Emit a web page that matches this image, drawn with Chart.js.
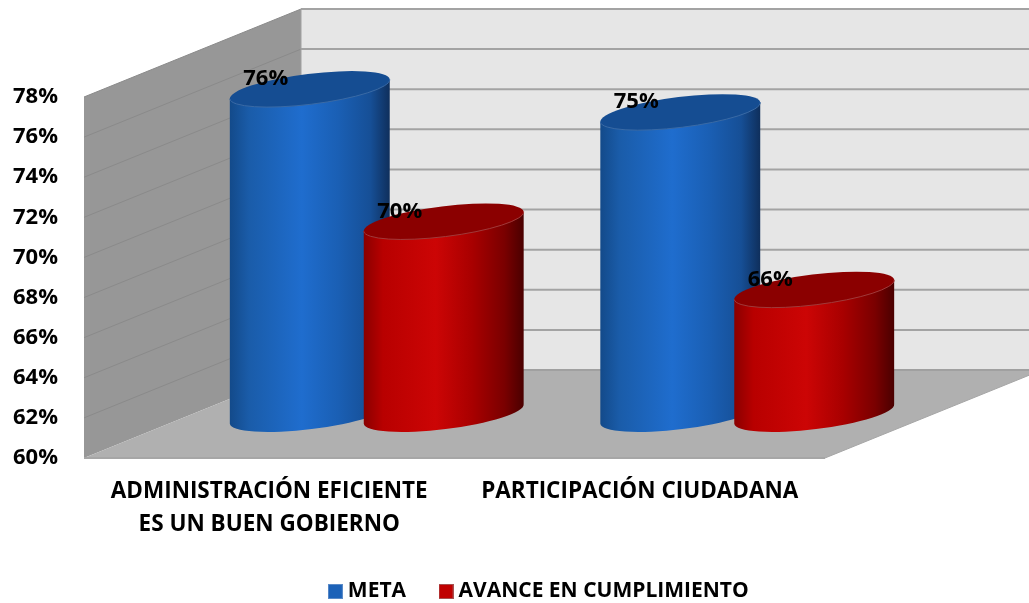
<!DOCTYPE html>
<html lang="es">
<head>
<meta charset="utf-8">
<title>Meta y avance</title>
<script src="https://cdn.jsdelivr.net/npm/chart.js@4"></script>
<style>
  html, body { margin: 0; padding: 0; background: #fff; }
  canvas { display: block; }
</style>
</head>
<body>
<canvas id="chart" width="1029" height="603"></canvas>
<script>
// ── DATA ─────────────────────────────────────────────────────
const categorias = [
  ['ADMINISTRACIÓN EFICIENTE', 'ES UN BUEN GOBIERNO'],
  'PARTICIPACIÓN CIUDADANA',
];
const meta   = [76.2, 75.05];
const avance = [69.6, 66.2];
const serieMeta   = 'META';
const serieAvance = 'AVANCE EN CUMPLIMIENTO';
const ejeMin = 60, ejeMax = 78, ejePaso = 2;

// ── STYLE ────────────────────────────────────────────────────
const FONT = '"Open Sans", Lato, sans-serif';
const DEPTH_X = 217, DEPTH_Y = 88;        // fondo de la caja 3D
const TILT = -7 * Math.PI / 180;          // inclinación de la elipse
const RADIO_Y = 15.2;

const PALETA = [
  { base: '#1c62b8', tapa: '#154d92', borde: '#3a6aa5',
    lado: ['#134a8a', '#1a5ca9', '#1f6dce', '#1a5fb4', '#164f96', '#0f2f5c'] },
  { base: '#c00000', tapa: '#8b0000', borde: '#a03a3a',
    lado: ['#8a0000', '#b80000', '#cc0505', '#a80000', '#7a0000', '#4a0000'] },
];
const PARADAS = [0, 0.12, 0.45, 0.68, 0.88, 1];

function muestra(color, borde) {
  const c = document.createElement('canvas');
  c.width = 15; c.height = 15;
  const g = c.getContext('2d');
  g.fillStyle = borde; g.fillRect(0, 0, 15, 15);
  g.fillStyle = color; g.fillRect(1, 1, 13, 13);
  return c;
}
const muestras = [muestra('#1c62b8', '#5b8bc8'), muestra('#c00000', '#a85050')];

// ── PLUGIN: caja 3D y cilindros ──────────────────────────────
function poligono(ctx, pts, fill) {
  ctx.beginPath();
  pts.forEach(([x, y], i) => (i ? ctx.lineTo(x, y) : ctx.moveTo(x, y)));
  ctx.closePath();
  ctx.fillStyle = fill;
  ctx.fill();
}

function linea(ctx, x0, y0, x1, y1, color, ancho) {
  ctx.beginPath();
  ctx.moveTo(x0, y0);
  ctx.lineTo(x1, y1);
  ctx.strokeStyle = color;
  ctx.lineWidth = ancho;
  ctx.stroke();
}

function dibujarCaja(chart) {
  const { ctx, chartArea: a, scales: { y } } = chart;
  const bx = a.left + DEPTH_X, tope = a.top - DEPTH_Y, fondo = a.bottom - DEPTH_Y;

  // pared trasera, pared izquierda, piso
  ctx.fillStyle = '#e6e6e6';
  ctx.fillRect(bx, tope, chart.width - bx, fondo - tope);
  poligono(ctx, [[a.left, a.top], [bx, tope], [bx, fondo], [a.left, a.bottom]], '#979797');

  y.ticks.forEach(t => {
    const py = y.getPixelForValue(t.value);
    if (t.value > ejeMin) {
      linea(ctx, bx, py - DEPTH_Y, chart.width, py - DEPTH_Y, '#a3a3a3', 2);
      linea(ctx, a.left, py, bx, py - DEPTH_Y, '#8a8a8a', 1);
    }
  });

  poligono(ctx, [[a.left, a.bottom], [a.right, a.bottom], [a.right + DEPTH_X, fondo], [bx, fondo]], '#b0b0b0');
  linea(ctx, bx, fondo, chart.width, fondo, '#a0a0a0', 2);
  linea(ctx, a.left, a.bottom, a.right, a.bottom, '#a6a6a6', 2);
  linea(ctx, a.right, a.bottom, a.right + DEPTH_X, fondo, '#a6a6a6', 1);
  linea(ctx, bx, tope, bx, fondo, '#a0a0a0', 1);
}

function dibujarCilindro(ctx, bar, pal) {
  const cx = bar.x + DEPTH_X / 2 - 1;
  const top = bar.y - DEPTH_Y / 2;
  const bot = bar.base - DEPTH_Y / 2;
  const halfW = bar.width / 2;
  // semieje mayor para que el ancho visible sea igual al de la barra
  const rx = Math.sqrt((halfW * halfW - RADIO_Y * RADIO_Y * Math.sin(TILT) ** 2) / Math.cos(TILT) ** 2);
  const skew = (rx * rx - RADIO_Y * RADIO_Y) * Math.sin(TILT) * Math.cos(TILT) / halfW;

  const grad = ctx.createLinearGradient(cx - halfW, 0, cx + halfW, 0);
  pal.lado.forEach((c, i) => grad.addColorStop(PARADAS[i], c));

  // cuerpo: mitad inferior de la elipse de abajo + lados
  ctx.beginPath();
  ctx.moveTo(cx - halfW, top - skew);
  ctx.lineTo(cx - halfW, bot - skew);
  ctx.ellipse(cx, bot, rx, RADIO_Y, TILT, Math.PI, 0, true);
  ctx.lineTo(cx + halfW, top + skew);
  ctx.closePath();
  ctx.fillStyle = grad;
  ctx.fill();

  // tapa
  ctx.beginPath();
  ctx.ellipse(cx, top, rx, RADIO_Y, TILT, 0, Math.PI * 2);
  ctx.fillStyle = pal.tapa;
  ctx.fill();
  ctx.beginPath();
  ctx.ellipse(cx, top, rx, RADIO_Y, TILT, 0, Math.PI);
  ctx.strokeStyle = pal.borde;
  ctx.lineWidth = 1;
  ctx.stroke();
}

const caja3d = {
  id: 'caja3d',
  afterLayout(chart) {
    // la leyenda se centra sobre el lienzo completo, no sobre el área del gráfico
    const l = chart.legend;
    l.left = 0; l.right = chart.width + 53; l.top = 543;
  },
  beforeDraw: dibujarCaja,
  beforeDatasetDraw: () => false,
  afterDatasetsDraw(chart) {
    const { ctx } = chart;
    const metas = chart.data.datasets.map((_, i) => chart.getDatasetMeta(i));
    ctx.save();
    chart.data.labels.forEach((_, j) => {
      metas.forEach((m, i) => dibujarCilindro(ctx, m.data[j], PALETA[i]));
    });
    ctx.fillStyle = '#000';
    ctx.font = 'bold 22px ' + FONT;
    ctx.textAlign = 'center';
    ctx.textBaseline = 'middle';
    metas.forEach((m, i) => m.data.forEach((bar, j) => {
      const v = chart.data.datasets[i].data[j];
      ctx.fillText(v.toFixed(0) + '%', bar.x + DEPTH_X / 2 - 45, bar.y - DEPTH_Y / 2 - 10);
    }));
    ctx.restore();
  },
};

new Chart(document.getElementById('chart'), {
  type: 'bar',
  data: {
    labels: categorias,
    datasets: [
      { label: serieMeta, data: meta, backgroundColor: PALETA[0].base, base: ejeMin },
      { label: serieAvance, data: avance, backgroundColor: PALETA[1].base, base: ejeMin },
    ],
  },
  options: {
    responsive: false,
    animation: false,
    layout: { padding: { top: 97, right: 204, left: 0, bottom: -14 } },
    datasets: { bar: { categoryPercentage: 0.723, barPercentage: 1.194 } },
    scales: {
      x: {
        grid: { display: false },
        border: { display: false },
        ticks: {
          color: '#000', maxRotation: 0, autoSkip: false, padding: 9,
          font: { family: FONT, size: 22.5, weight: 'bold', lineHeight: 1.47 },
        },
        afterFit: s => { s.height = 90; },
      },
      y: {
        min: ejeMin, max: ejeMax,
        grid: { display: false },
        border: { display: false },
        ticks: {
          stepSize: ejePaso, color: '#000', padding: 18,
          callback: v => v + '%',
          font: { family: FONT, size: 22, weight: 'bold' },
        },
        afterFit: s => { s.width = 84; },
      },
    },
    plugins: {
      tooltip: { enabled: false },
      legend: {
        position: 'bottom',
        labels: {
          color: '#000', usePointStyle: true, pointStyleWidth: 4, boxHeight: 15, padding: 38,
          font: { family: FONT, size: 21, weight: 'bold' },
          generateLabels: c => Chart.defaults.plugins.legend.labels.generateLabels(c)
            .map((it, i) => ({ ...it, pointStyle: muestras[i] })),
        },
      },
    },
  },
  plugins: [caja3d],
});
</script>
</body>
</html>
